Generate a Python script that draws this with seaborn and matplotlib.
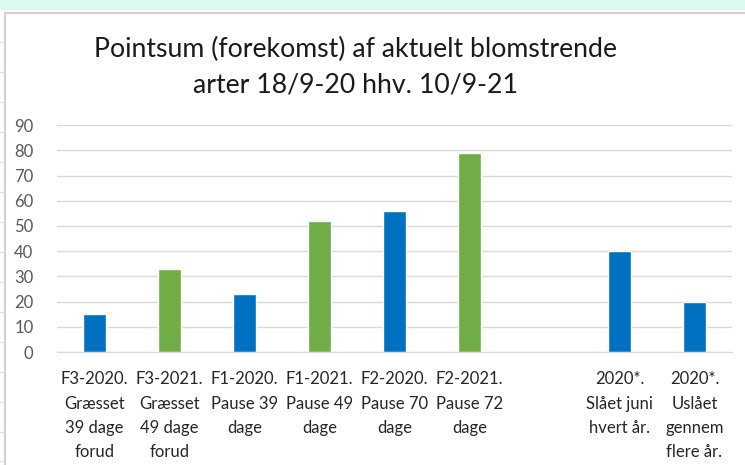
import numpy as np
import pandas as pd
import seaborn as sns
import matplotlib.pyplot as plt
from matplotlib.patches import Rectangle
from matplotlib.lines import Line2D

# ========== DATA ==========
labels = [
    "F3-2020.\nGræsset\n39 dage\nforud",
    "F3-2021.\nGræsset\n49 dage\nforud",
    "F1-2020.\nPause 39\ndage",
    "F1-2021.\nPause 49\ndage",
    "F2-2020.\nPause 70\ndage",
    "F2-2021.\nPause 72\ndage",
    " ",
    "2020*.\nSlået juni\nhvert år.",
    "2020*.\nUslået\ngennem\nflere år.",
]
values = [15, 33, 23, 52, 56, 79, np.nan, 40, 20]
years = ["2020", "2021", "2020", "2021", "2020", "2021", "2020", "2020", "2020"]
yticks = [0, 10, 20, 30, 40, 50, 60, 70, 80, 90]
title = "Pointsum (forekomst) af aktuelt blomstrende\narter 18/9-20 hhv. 10/9-21"

colors = {"2020": "#0070C0", "2021": "#70AD47"}

df = pd.DataFrame({"label": labels, "value": values, "year": years})

# ========== PLOT ==========
sns.set_style("white")
plt.rcParams["font.family"] = ["Lato", "DejaVu Sans"]

fig = plt.figure(figsize=(7.45, 4.65), dpi=100)

# spreadsheet background bits
fig.patches.append(Rectangle((0, 0.978), 1, 0.022, transform=fig.transFigure,
                             facecolor="#DAFAEC", edgecolor="none", zorder=0))
fig.add_artist(Line2D([0.0067, 1], [0.973, 0.973], color="#D0D0D0", lw=1.5))
fig.add_artist(Line2D([0.0067, 0.0067], [0, 0.973], color="#D0D0D0", lw=1.5))
for yy in [0.91, 0.846, 0.78, 0.716, 0.652, 0.587, 0.523, 0.458, 0.394, 0.33, 0.265, 0.2, 0.136, 0.072, 0.008]:
    fig.add_artist(Line2D([0, 0.0055], [yy, yy], color="#E3E3E3", lw=1))

ax = fig.add_axes([0.0765, 0.243, 0.906, 0.488])
sns.barplot(data=df, x="label", y="value", hue="year", palette=colors,
            order=labels, width=0.3, dodge=False, legend=False,
            saturation=1, ax=ax)

ax.set_ylim(0, 90)
ax.set_yticks(yticks)
ax.yaxis.grid(True, color="#D9D9D9", lw=1)
ax.set_axisbelow(True)
for s in ["top", "right", "left"]:
    ax.spines[s].set_visible(False)
ax.spines["bottom"].set_color("#D9D9D9")
ax.tick_params(axis="y", length=0, pad=17, labelsize=12, labelcolor="#595959")
ax.tick_params(axis="x", length=0, pad=14)
ax.set_xlabel("")
ax.set_ylabel("")
for t in ax.get_xticklabels():
    t.set_fontsize(12)
    t.set_color("#262626")
    t.set_linespacing(1.62)
    t.set_multialignment("center")
    t.set_verticalalignment("top")

fig.text(0.477, 0.855, title, ha="center", va="center", fontsize=19.2,
         color="#1a1a1a", linespacing=1.55)

fig.savefig("out.png", dpi=100)
